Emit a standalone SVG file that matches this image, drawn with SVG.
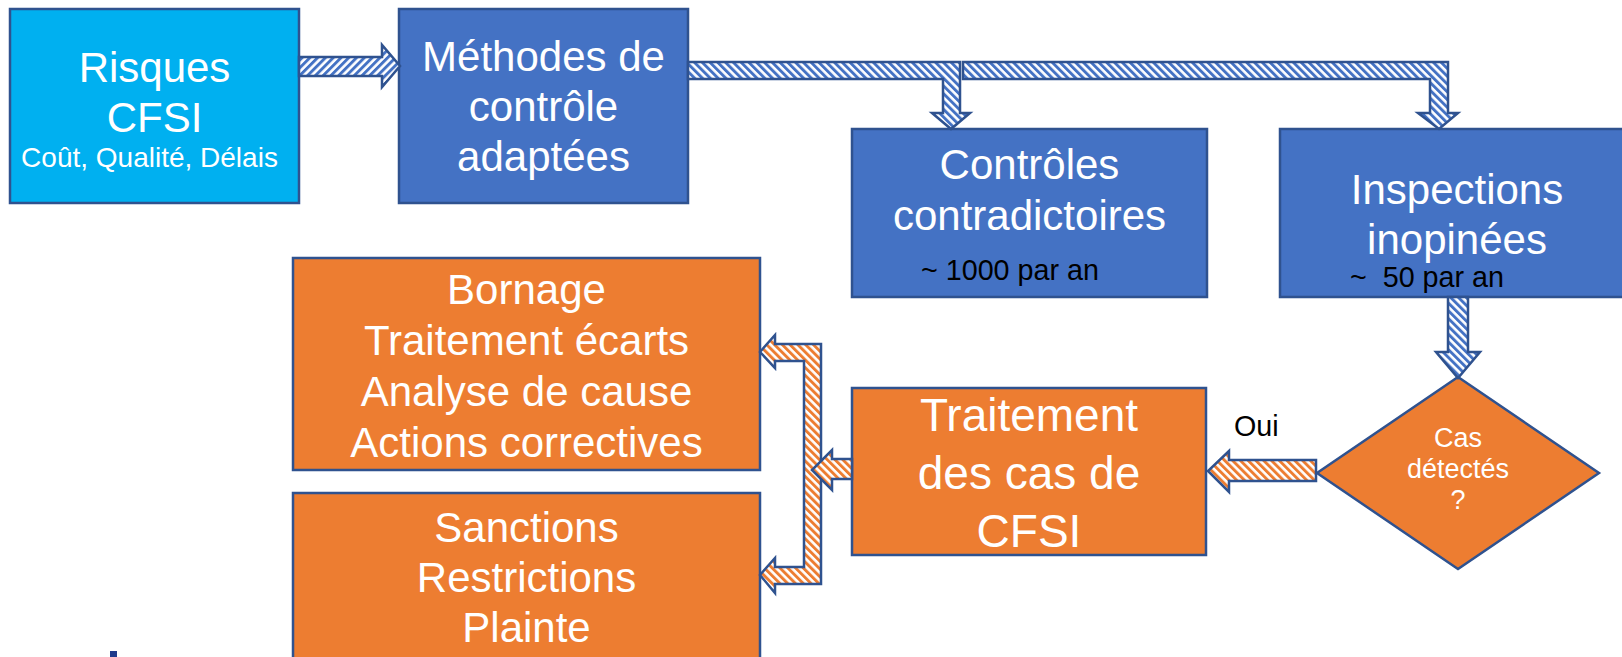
<svg xmlns="http://www.w3.org/2000/svg" width="1622" height="657" viewBox="0 0 1622 657">
<defs>
<pattern id="pBlueUp" patternUnits="userSpaceOnUse" width="5.5" height="5.5" patternTransform="rotate(45)">
<rect width="5.5" height="5.5" fill="#ffffff"/><rect width="2.9" height="5.5" fill="#4472C4"/>
</pattern>
<pattern id="pBlueDn" patternUnits="userSpaceOnUse" width="5.5" height="5.5" patternTransform="rotate(-45)">
<rect width="5.5" height="5.5" fill="#ffffff"/><rect width="2.9" height="5.5" fill="#4472C4"/>
</pattern>
<pattern id="pOrange" patternUnits="userSpaceOnUse" width="5.5" height="5.5" patternTransform="rotate(-45)">
<rect width="5.5" height="5.5" fill="#ffffff"/><rect width="2.9" height="5.5" fill="#ED7D31"/>
</pattern>
</defs>
<style>
text{font-family:"Liberation Sans",Arial,sans-serif;text-anchor:middle}
.big{font-size:42px;fill:#ffffff}
.mid{font-size:46px;fill:#ffffff}
.sm{font-size:27px;fill:#ffffff}
.sub{font-size:28px;fill:#ffffff}
.note{font-size:28.7px;fill:#000000;text-anchor:start}
.box{stroke:#2F528F;stroke-width:2.5}
.cyan{fill:#00B0F0}
.blue{fill:#4472C4}
.orange{fill:#ED7D31}
.arrB{fill:url(#pBlueDn);stroke:#2F528F;stroke-width:2.5;stroke-linejoin:miter}
.arrB2{fill:url(#pBlueUp);stroke:#2F528F;stroke-width:2.5}
.arrO{fill:url(#pOrange);stroke:#2F528F;stroke-width:2.5}
</style>
<rect width="1622" height="657" fill="#ffffff"/>

<g id="risques">
<rect class="box cyan" x="10" y="9" width="289" height="194"/>
<text class="big" x="154.5" y="82">Risques</text>
<text class="big" x="154.5" y="132">CFSI</text>
<text class="sub" x="149.5" y="167">Coût, Qualité, Délais</text>
</g>

<g id="methodes">
<rect class="box blue" x="399" y="9" width="289" height="194"/>
<text class="big" x="543.5" y="71">Méthodes de</text>
<text class="big" x="543.5" y="121">contrôle</text>
<text class="big" x="543.5" y="171">adaptées</text>
</g>

<g id="controles">
<rect class="box blue" x="852" y="129" width="355" height="168"/>
<text class="big" x="1029.5" y="179">Contrôles</text>
<text class="big" x="1029.5" y="230">contradictoires</text>
<text class="note" x="921" y="280">~ 1000 par an</text>
</g>

<g id="inspections">
<rect class="box blue" x="1280" y="129" width="355" height="168"/>
<text class="big" x="1457" y="204">Inspections</text>
<text class="big" x="1457" y="254">inopinées</text>
<text class="note" x="1350" y="287" xml:space="preserve">~  50 par an</text>
</g>

<g id="cas-detectes">
<polygon class="box orange" points="1458,377 1599,473 1458,569 1317,473"/>
<text class="sm" x="1458" y="447">Cas</text>
<text class="sm" x="1458" y="478">détectés</text>
<text class="sm" x="1458" y="509">?</text>
</g>

<g id="traitement-cas">
<rect class="box orange" x="852" y="388" width="354" height="167"/>
<text class="mid" x="1029" y="431">Traitement</text>
<text class="mid" x="1029" y="489">des cas de</text>
<text class="mid" x="1029" y="547">CFSI</text>
</g>

<g id="bornage">
<rect class="box orange" x="293" y="258" width="467" height="212"/>
<text class="big" x="526.5" y="304">Bornage</text>
<text class="big" x="526.5" y="355">Traitement écarts</text>
<text class="big" x="526.5" y="406">Analyse de cause</text>
<text class="big" x="526.5" y="457">Actions correctives</text>
</g>

<g id="sanctions">
<rect class="box orange" x="293" y="493" width="467" height="180"/>
<text class="big" x="526.5" y="542">Sanctions</text>
<text class="big" x="526.5" y="592">Restrictions</text>
<text class="big" x="526.5" y="642">Plainte</text>
</g>

<g id="connectors">
<polygon class="arrB2" points="299,57 382,57 382,45 400,66 382,87 382,76 299,76"/>
<polygon class="arrB" points="963,62 1448,62 1448,113 1458,113 1439,129 1418,113 1430,113 1430,79 963,79"/>
<polygon class="arrB" points="688,62 960,62 960,113 970,113 951,129 932,113 943,113 943,79 688,79"/>
<polygon class="arrB" points="1448,297 1468,297 1468,352 1480,352 1458,378 1436,352 1448,352"/>
<polygon class="arrO" points="1316,460 1229,460 1229,451 1208,471 1229,492 1229,481 1316,481"/>
<text class="note" x="1234" y="436">Oui</text>
<polygon class="arrO" points="760,352 775,335 775,344 821,344 821,584 775,584 775,593 760,575 775,558 775,567 804,567 804,361 775,361 775,368"/>
<polygon class="arrO" points="852,459 832,459 832,450 812,470 832,490 832,479 852,479"/>
</g>

<g id="logo-fragment">
<rect x="110" y="651" width="7" height="6" fill="#1F3B8C"/>
</g>
</svg>
